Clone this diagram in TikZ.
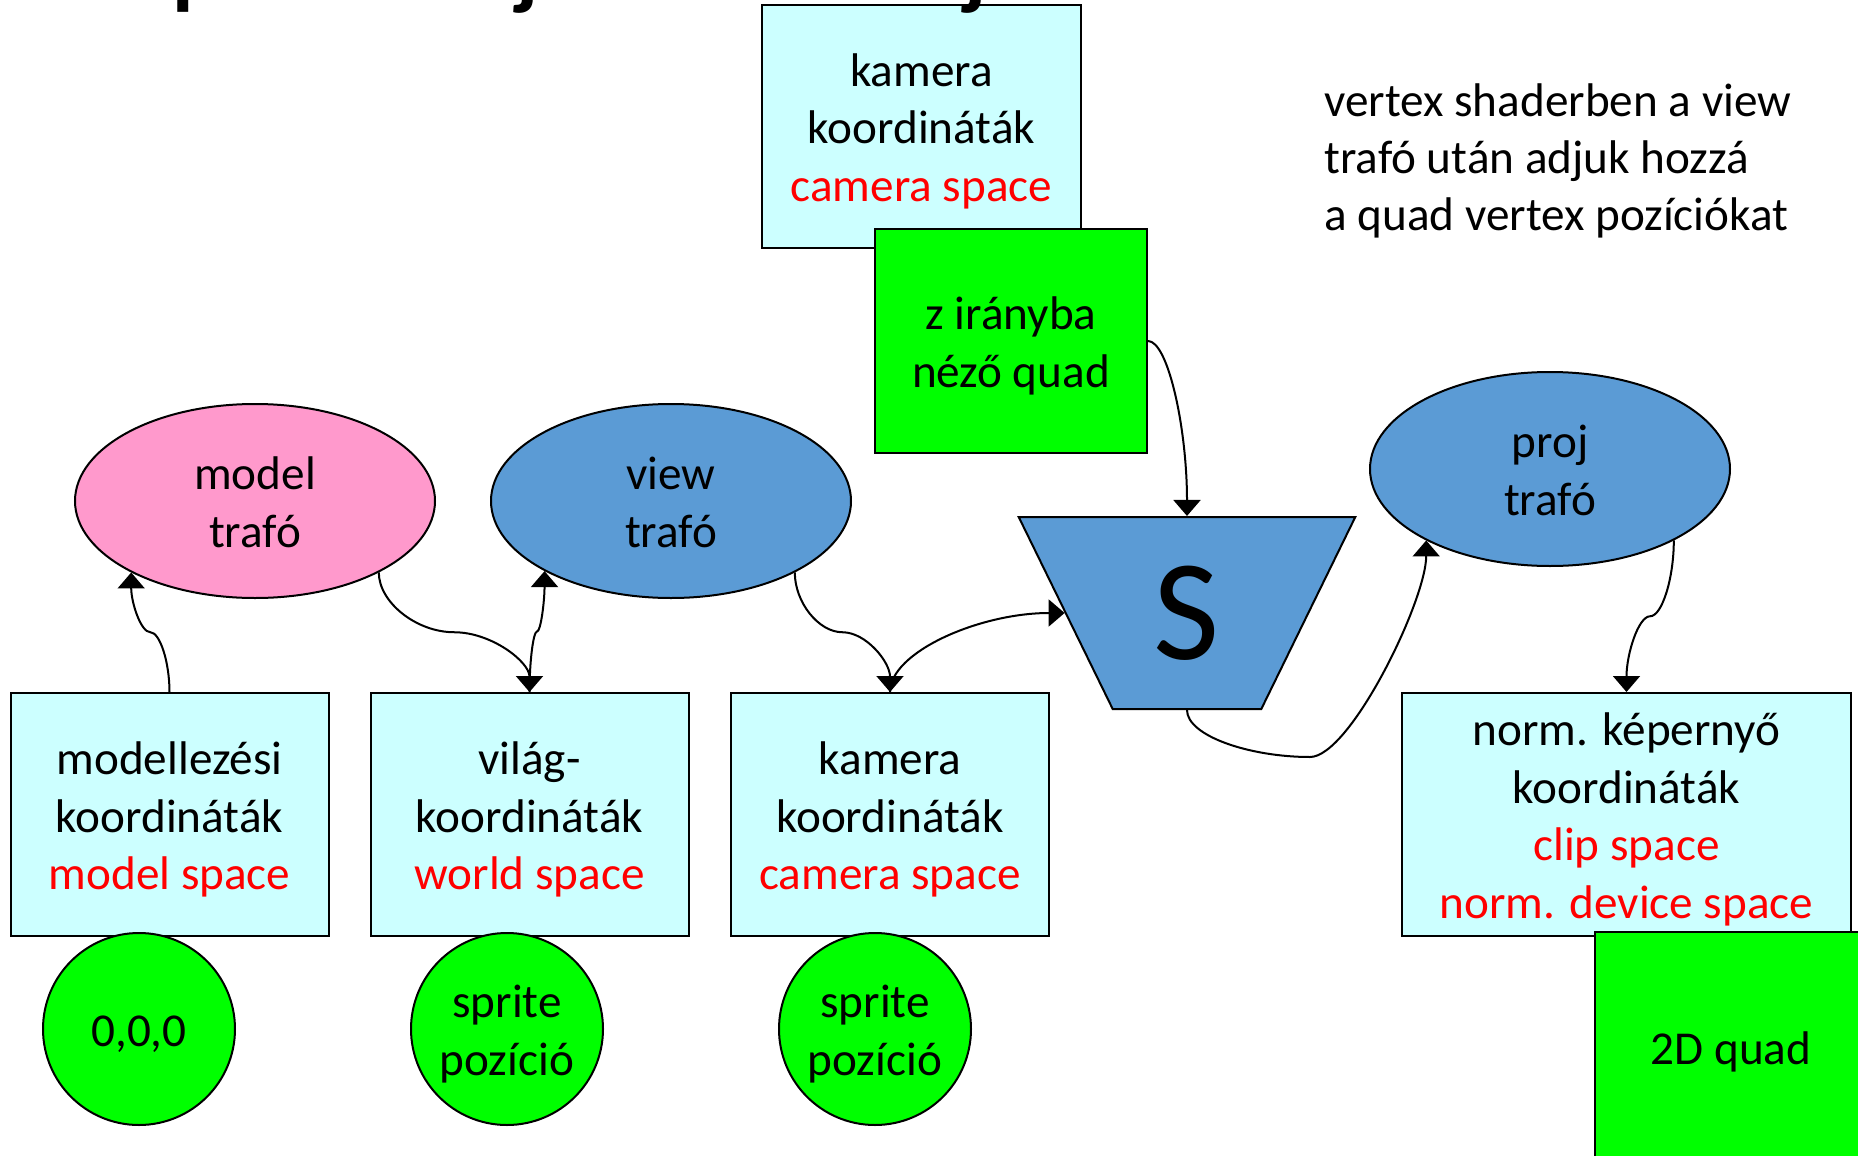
\documentclass[tikz,border=0pt]{standalone}
\usepackage{fontspec}
\setmainfont{Carlito}
\usetikzlibrary{shapes.geometric,arrows.meta,calc}

\definecolor{boxcyan}{HTML}{CCFFFF}
\definecolor{trafoblue}{HTML}{5B9BD5}
\definecolor{trafopink}{HTML}{FF99CC}
\definecolor{quadgreen}{HTML}{00FF00}
\definecolor{spacered}{HTML}{FF0000}

% S-shaped connector: vertical at both ends, horizontal through the midpoint
\newcommand{\sigmoidlink}[2]{%
  \draw[conn] let \p1=(#1), \p2=(#2), \p3=($(\p1)!0.5!(\p2)$) in
    (\p1) .. controls +(0pt,{(\y2-\y1)/4}) and +({-(\x2-\x1)/4},0pt) .. (\p3)
          .. controls +({(\x2-\x1)/4},0pt) and +(0pt,{-(\y2-\y1)/4}) .. (\p2);}

\tikzset{
  every node/.style={font=\fontsize{23.6}{28.7}\selectfont, align=center, inner sep=0pt},
  % fixed text box metrics, so every block of lines sits alike in its shape
  oneline/.style={text height=22.5pt, text depth=5pt},
  twolines/.style={text height=51.2pt, text depth=5pt},
  threelines/.style={text height=79.9pt, text depth=5pt},
  fourlines/.style={text height=108.6pt, text depth=5pt},
  spacebox/.style={rectangle, draw, line width=1pt, fill=boxcyan,
                   minimum width=#1, minimum height=121.5pt},
  quadbox/.style={rectangle, draw, line width=1pt, fill=quadgreen},
  trafo/.style={ellipse, draw, line width=1pt, fill=#1,
                minimum width=180pt, minimum height=97pt},
  spot/.style={circle, draw, line width=1pt, fill=quadgreen, minimum size=96pt},
  shaderbox/.style={trapezium, trapezium left angle=113.9, trapezium right angle=113.9,
                    trapezium stretches=true, draw, line width=1pt, fill=trafoblue,
                    minimum width=169pt, minimum height=96pt,
                    font=\fontsize{72}{80}\selectfont},
  conn/.style={draw, line width=1pt, -{Triangle[width=13.5pt,length=8pt]}},
  titlech/.style={anchor=base west, font=\fontsize{44}{50}\selectfont\bfseries}
}

\begin{document}
\begin{tikzpicture}[x=0.5pt,y=-0.5pt]
\useasboundingbox (0,0) rectangle (1858,1156);
\clip (0,0) rectangle (1858,1156);
\fill[white] (0,0) rectangle (1858,1156);

% camera space box with the camera-facing quad in front of it
\node[spacebox=159.5pt, threelines] (camtop) at (921.5,126.5)
  {kamera\\koordináták\\\textcolor{spacered}{camera space}};
\node[quadbox, twolines, minimum width=136pt, minimum height=112pt] (zquad) at (1011,341)
  {z irányba\\néző quad};

% transformations
\node[trafo=trafopink, twolines] (model) at (255,501) {model\\trafó};
\node[trafo=trafoblue, twolines] (view) at (671,501) {view\\trafó};
\node[trafo=trafoblue, twolines] (proj) at (1550,469) {proj\\trafó};
\node[shaderbox] (S) at (1187,613) {S};

% coordinate spaces
\node[spacebox=159pt, threelines] (b1) at (169.5,814.5)
  {modellezési\\koordináták\\\textcolor{spacered}{model space}};
\node[spacebox=159pt, threelines] (b2) at (529.5,814.5)
  {világ-\\koordináták\\\textcolor{spacered}{world space}};
\node[spacebox=159pt, threelines] (b3) at (890,814.5)
  {kamera\\koordináták\\\textcolor{spacered}{camera space}};
\node[spacebox=224.5pt, fourlines] (b4) at (1626.5,814.5)
  {norm. képernyő\\koordináták\\\textcolor{spacered}{clip space}\\\textcolor{spacered}{norm. device space}};

% positions carried through the spaces
\node[spot, oneline] (p1) at (139,1029) {0,0,0};
\node[spot, twolines] (p2) at (507,1029) {sprite\\pozíció};
\node[spot, twolines] (p3) at (875,1029) {sprite\\pozíció};
\node[quadbox, oneline, minimum width=136pt, minimum height=115pt] (quad2d) at (1731,1047) {2D quad};

% note
\node[anchor=north west, align=left] (note) at (1324,83)
  {vertex shaderben a view\\trafó után adjuk hozzá\\a quad vertex pozíciókat};

% connectors
\sigmoidlink{b1.north}{model.210}
\sigmoidlink{model.-30}{b2.north}
\sigmoidlink{b2.north}{view.209}
\sigmoidlink{view.-30}{b3.north}
\sigmoidlink{proj.-30}{b4.north}
\draw[conn] (b3.north) .. controls +(0,-40) and +(-85,0) .. (S.180);
\draw[conn] (zquad.east) .. controls +(20,0) and +(0,-88) .. (S.north);
\draw[conn] (S.south) .. controls +(0,26) and +(-60,0) .. (1310,757)
                      .. controls +(40,0) and +(0,60) .. (proj.210);

% lower edge of the slide title
\node[titlech] (tp) at (172,-1) {p};
\node[titlech] (tj1) at (516,-1) {j};
\node[titlech] (tj2) at (964,-1) {j};
\end{tikzpicture}
\end{document}
